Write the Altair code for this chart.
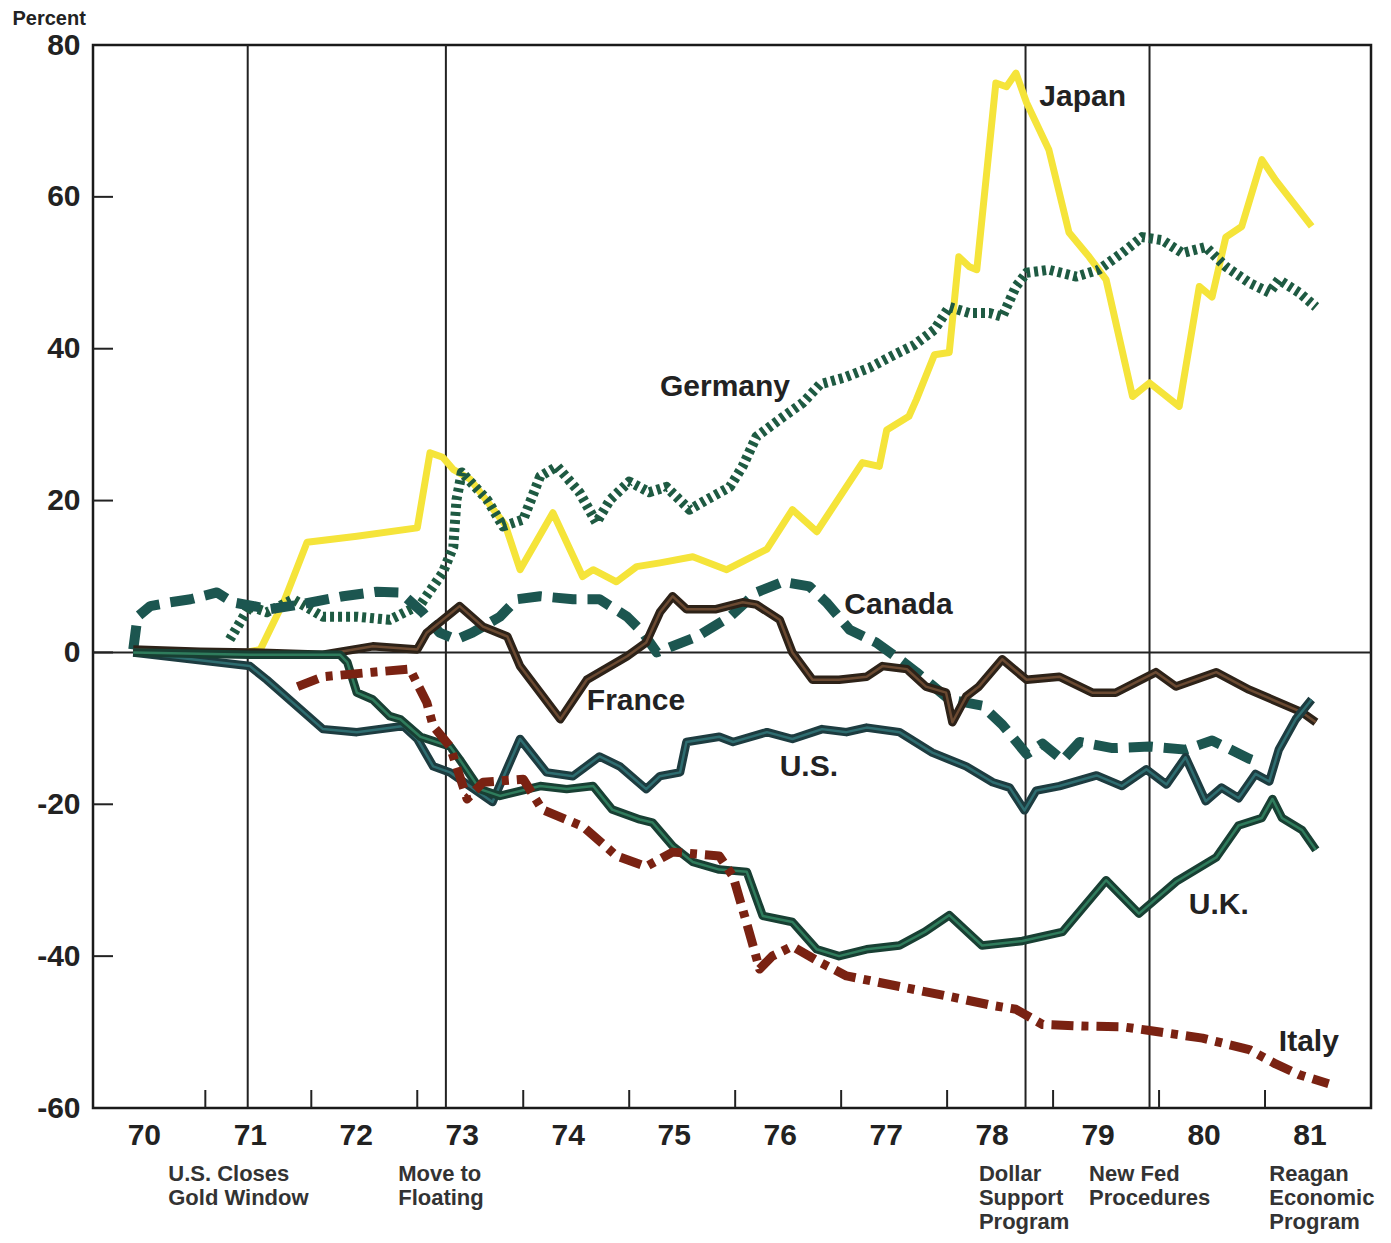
import altair as alt
import pandas as pd

# time in years (70 = 1970), values in percent
japan_t = [71.38, 71.52, 71.75, 71.96, 72.43, 73.00, 73.12, 73.24, 73.34, 73.50, 73.83, 73.97, 74.28, 74.56, 74.66,
           74.88, 75.07, 75.29, 75.60, 75.92, 76.30, 76.54, 76.77, 77.20, 77.36, 77.43, 77.64, 77.71, 77.88, 78.02,
           78.11, 78.21, 78.28, 78.46, 78.56, 78.65, 78.75, 78.96, 79.15, 79.34, 79.50, 79.75, 79.91, 80.19, 80.38,
           80.50, 80.63, 80.78, 80.97, 81.10, 81.44]
japan_v = [0, 0.4, 7.0, 14.5, 15.3, 16.4, 26.3, 25.7, 24.1, 22.8, 16.8, 10.9, 18.4, 10.0, 10.9,
           9.3, 11.3, 11.8, 12.6, 10.9, 13.6, 18.8, 15.9, 25.0, 24.5, 29.3, 31.1, 33.3, 39.2, 39.5,
           52.1, 50.8, 50.4, 75.0, 74.5, 76.3, 72.4, 66.2, 55.3, 52.1, 49.1, 33.7, 35.5, 32.4, 48.2,
           46.8, 54.7, 56.1, 64.9, 62.2, 56.1]

germany_t = [71.23, 71.42, 71.58, 71.83, 72.11, 72.43, 72.74, 73.03, 73.24, 73.34, 73.37, 73.42, 73.66, 73.81, 74.00,
             74.16, 74.32, 74.53, 74.69, 74.82, 75.00, 75.19, 75.35, 75.57, 75.73, 75.95, 76.07, 76.20, 76.42, 76.64,
             76.80, 77.03, 77.27, 77.50, 77.69, 77.88, 78.02, 78.21, 78.40, 78.52, 78.65, 78.75, 78.96, 79.22, 79.43,
             79.65, 79.84, 80.03, 80.22, 80.44, 80.63, 80.85, 81.04, 81.13, 81.32, 81.48]
germany_v = [1.7, 6.1, 5.3, 7.0, 4.7, 4.7, 4.3, 6.3, 10.5, 13.9, 20.1, 23.7, 20.1, 16.6, 17.5,
             23.2, 24.5, 21.1, 17.1, 20.1, 22.5, 21.1, 21.8, 18.8, 20.1, 21.8, 24.5, 28.4, 30.7, 32.9,
             35.3, 36.2, 37.5, 39.2, 40.5, 42.5, 45.5, 44.7, 44.7, 44.2, 48.2, 50.0, 50.4, 49.5, 50.4,
             52.6, 54.7, 54.3, 52.6, 53.4, 50.8, 48.7, 47.4, 49.1, 47.4, 45.5]

canada_t = [70.32, 70.36, 70.48, 70.67, 70.86, 71.11, 71.26, 71.61, 71.89, 72.30, 72.62, 72.84, 73.05, 73.21, 73.37,
            73.52, 73.78, 73.94, 74.16, 74.47, 74.72, 74.98, 75.13, 75.26, 75.64, 75.95, 76.20, 76.45, 76.70, 76.86,
            77.08, 77.33, 77.55, 77.71, 78.02, 78.33, 78.52, 78.75, 78.90, 79.09, 79.25, 79.56, 79.91, 80.25, 80.50,
            80.85, 80.97]
canada_v = [0.4, 4.7, 6.1, 6.6, 7.0, 7.9, 6.6, 5.7, 6.3, 7.4, 8.0, 7.9, 5.3, 2.6, 1.7,
            2.6, 4.7, 7.0, 7.4, 7.0, 7.0, 4.7, 2.6, 0.0, 2.1, 4.7, 7.9, 9.3, 8.7, 6.6,
            3.0, 1.3, -0.9, -2.6, -6.2, -7.0, -9.5, -13.4, -12.0, -14.2, -11.8, -12.6, -12.4, -12.8, -11.6,
            -14.0, -14.6]

france_t = [70.32, 70.95, 71.42, 72.11, 72.58, 73.00, 73.09, 73.40, 73.62, 73.85, 73.97, 74.35, 74.60, 74.98, 75.16,
            75.29, 75.41, 75.54, 75.82, 76.07, 76.20, 76.42, 76.54, 76.73, 76.98, 77.24, 77.39, 77.62, 77.80, 77.99,
            78.05, 78.18, 78.30, 78.52, 78.75, 79.06, 79.37, 79.59, 79.97, 80.16, 80.54, 80.85, 81.35, 81.48]
france_v = [0.4, 0.1, 0.0, -0.3, 0.8, 0.4, 2.6, 6.1, 3.4, 2.1, -1.8, -8.8, -3.6, -0.5, 1.3,
            5.3, 7.4, 5.7, 5.7, 6.6, 6.3, 4.3, 0.0, -3.6, -3.6, -3.2, -1.8, -2.2, -4.5, -5.3,
            -9.2, -5.8, -4.5, -0.9, -3.6, -3.2, -5.3, -5.3, -2.6, -4.5, -2.6, -4.9, -7.9, -9.2]

us_t = [70.32, 71.42, 71.58, 72.11, 72.43, 72.87, 73.00, 73.15, 73.31, 73.71, 73.97, 74.22, 74.47, 74.72, 74.91,
        75.16, 75.29, 75.48, 75.54, 75.85, 75.98, 76.30, 76.54, 76.82, 77.05, 77.24, 77.55, 77.86, 78.18, 78.43,
        78.59, 78.73, 78.84, 79.06, 79.41, 79.65, 79.88, 80.07, 80.25, 80.44, 80.59, 80.75, 80.91, 81.04, 81.13,
        81.29, 81.44]
us_v = [0.0, -1.8, -3.6, -10.1, -10.5, -9.7, -11.4, -15.0, -15.8, -19.7, -11.4, -15.8, -16.3, -13.7, -15.0,
        -18.0, -16.3, -15.8, -11.8, -11.1, -11.8, -10.5, -11.4, -10.1, -10.5, -9.9, -10.5, -13.2, -15.0, -17.1,
        -17.8, -20.8, -18.2, -17.6, -16.2, -17.6, -15.4, -17.4, -13.8, -19.6, -17.8, -19.2, -16.0, -17.0, -12.8,
        -8.8, -6.2]

uk_t = [70.32, 71.42, 72.27, 72.34, 72.43, 72.58, 72.74, 72.84, 73.03, 73.31, 73.40, 73.59, 73.78, 74.16, 74.41,
        74.66, 74.84, 75.10, 75.22, 75.41, 75.60, 75.85, 76.11, 76.26, 76.54, 76.77, 76.98, 77.24, 77.55, 77.79,
        78.02, 78.33, 78.71, 79.09, 79.50, 79.81, 80.16, 80.54, 80.75, 80.97, 81.07, 81.16, 81.35, 81.48]
uk_v = [0.0, -0.3, -0.3, -1.3, -5.3, -6.2, -8.4, -8.8, -11.1, -12.4, -14.1, -18.0, -18.9, -17.6, -18.0,
        -17.6, -20.7, -22.0, -22.4, -25.5, -27.6, -28.6, -28.9, -34.7, -35.5, -39.1, -40.0, -39.1, -38.6, -36.8,
        -34.6, -38.6, -38.0, -36.8, -30.0, -34.4, -30.2, -27.0, -22.8, -21.8, -19.3, -21.8, -23.4, -26.0]

italy_t = [71.87, 72.11, 72.58, 72.93, 73.09, 73.15, 73.31, 73.47, 73.62, 74.00, 74.18, 74.56, 74.88, 75.16, 75.41,
           75.85, 75.98, 76.07, 76.16, 76.23, 76.35, 76.54, 76.80, 77.05, 77.55, 78.02, 78.43, 78.65, 78.90, 79.27,
           79.65, 79.91, 80.41, 80.85, 81.10, 81.32, 81.60]
italy_v = [-4.5, -3.2, -2.6, -2.2, -6.6, -9.7, -12.4, -19.3, -17.1, -16.7, -20.7, -22.9, -26.8, -28.2, -26.3,
           -26.8, -29.5, -33.8, -38.2, -41.7, -40.0, -38.7, -40.8, -42.6, -44.0, -45.3, -46.5, -47.0, -49.0, -49.2,
           -49.3, -49.8, -50.8, -52.3, -54.2, -55.6, -56.8]

years = list(range(70, 82))
year_ticks = list(range(71, 82))
y_ticks = [-60, -40, -20, 0, 20, 40, 60, 80]
inner_y_ticks = [-40, -20, 0, 20, 40, 60]

event_years = [71.40, 73.27, 78.74, 79.91]
event_text = ["U.S. Closes\nGold Window", "Move to\nFloating", "Dollar\nSupport\nProgram",
              "New Fed\nProcedures", "Reagan\nEconomic\nProgram"]
event_text_x = [70.65, 72.82, 78.30, 79.34, 81.04]

label_names = ["Japan", "Germany", "Canada", "France", "U.S.", "U.K.", "Italy"]
label_x = [78.87, 75.29, 77.03, 74.60, 76.42, 80.28, 81.13]
label_y = [73.2, 35.0, 6.2, -6.4, -15.1, -33.2, -51.3]

FONT = "Liberation Sans"
INK = "#222222"

series = [("Japan", japan_t, japan_v), ("Germany", germany_t, germany_v), ("Canada", canada_t, canada_v),
          ("France", france_t, france_v), ("U.S.", us_t, us_v), ("U.K.", uk_t, uk_v), ("Italy", italy_t, italy_v)]
rows = []
for name, ts, vs in series:
    for i, (t, v) in enumerate(zip(ts, vs)):
        rows.append({"country": name, "t": t, "v": v, "order": i})
df = pd.DataFrame(rows)

xs = alt.Scale(domain=[69.94, 82.0], nice=False, zero=False)
ys = alt.Scale(domain=[-60, 80], nice=False, zero=False)

XAX = alt.Axis(values=[y + 0.42 for y in years], labelExpr="toString(floor(datum.value))",
               ticks=False, domain=False, grid=False, labelFont=FONT, labelFontSize=30,
               labelFontWeight="bold", labelColor=INK, labelPadding=12, labelFlush=False,
               labelOverlap=False, title=None)
YAX = alt.Axis(values=y_ticks, ticks=False, domain=False, grid=False, labelFont=FONT,
               labelExpr="datum.value < 0 ? '-' + abs(datum.value) : '' + datum.value",
               labelFontSize=30, labelFontWeight="bold", labelColor=INK, labelPadding=13,
               labelFlush=False, labelOverlap=False,
               title="Percent", titleAngle=0, titleX=-81, titleY=-21, titleAlign="left",
               titleBaseline="alphabetic", titleFont=FONT, titleFontSize=20, titleFontWeight="bold",
               titleColor=INK)


def X(field="t"):
    return alt.X(f"{field}:Q", scale=xs, axis=XAX)


def Y(field="v"):
    return alt.Y(f"{field}:Q", scale=ys, axis=YAX)


def line(name, color, width, dash=None):
    kw = dict(color=color, strokeWidth=width, strokeCap="butt", strokeJoin="round")
    if dash:
        kw["strokeDash"] = dash
    return alt.Chart(df[df.country == name]).mark_line(**kw).encode(x=X(), y=Y(), order="order:Q")


zero_rule = alt.Chart(pd.DataFrame({"v": [0]})).mark_rule(color=INK, strokeWidth=2).encode(y=Y())
event_rules = alt.Chart(pd.DataFrame({"t": event_years})).mark_rule(color=INK, strokeWidth=2).encode(x=X())
yticks_layer = alt.Chart(pd.DataFrame({"v": inner_y_ticks})).mark_rule(color=INK, strokeWidth=2).encode(
    y=Y(), x=alt.value(0), x2=alt.value(20))
xticks_layer = alt.Chart(pd.DataFrame({"t": year_ticks})).mark_rule(color=INK, strokeWidth=2).encode(
    x=X(), y=alt.value(1063), y2=alt.value(1045))

labels = alt.Chart(pd.DataFrame({"t": label_x, "v": label_y, "name": label_names})).mark_text(
    align="left", baseline="middle", font=FONT, fontSize=30, fontWeight="bold", color=INK).encode(
    x=X(), y=Y(), text="name:N")

annotations = alt.Chart(pd.DataFrame({"t": event_text_x, "txt": event_text})).mark_text(
    align="left", baseline="top", font=FONT, fontSize=22, fontWeight="bold", color="#333333",
    lineBreak="\n", lineHeight=24).encode(
    x=X(), y=alt.value(1119), text="txt:N")

chart = alt.layer(
    event_rules,
    zero_rule,
    yticks_layer,
    xticks_layer,
    line("Japan", "#f5e43a", 7),
    line("Germany", "#1e5a42", 10, dash=[4, 4]),
    line("Canada", "#1c5650", 10, dash=[24, 11]),
    line("France", "#2d2218", 8.5),
    line("France", "#6b4a32", 2.5),
    line("U.S.", "#1d3c40", 8.5),
    line("U.S.", "#2e6d70", 2.5),
    line("U.K.", "#183f33", 8.5),
    line("U.K.", "#2f7c5c", 2.5),
    line("Italy", "#7a2212", 9, dash=[22, 8, 7, 8]),
    labels,
    annotations,
).properties(
    width=1278, height=1063,
    autosize=alt.AutoSizeParams(type="none"),
    padding={"left": 85, "top": 37, "right": 12, "bottom": 127},
).configure_view(stroke="#1a1a1a", strokeWidth=2.5)

chart.save("out.html", embed_options={"renderer": "svg", "actions": False})
